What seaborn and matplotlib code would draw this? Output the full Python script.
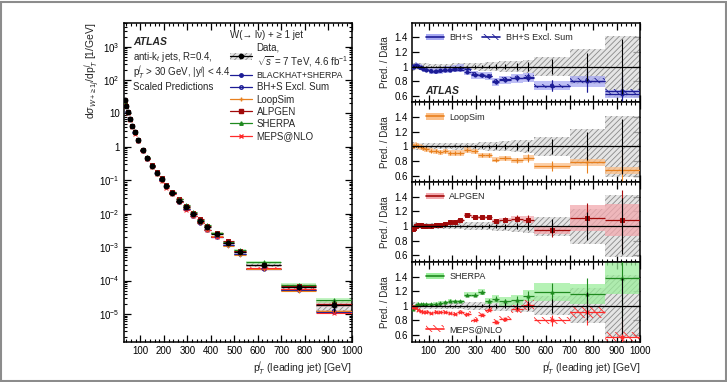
import numpy as np
import pandas as pd
import matplotlib
matplotlib.use("Agg")
import matplotlib.pyplot as plt
import seaborn as sns
from matplotlib.patches import Patch, Rectangle
from matplotlib.lines import Line2D
from matplotlib.ticker import MultipleLocator, FixedLocator, FuncFormatter, LogLocator, NullFormatter

# ---------------- data ----------------
bin_edges = [30, 35, 40, 50, 60, 70, 80, 100, 120, 140, 160, 180, 200, 220, 250,
             280, 310, 340, 370, 400, 450, 500, 550, 700, 850, 1000]
data_xsec = [25, 16.8, 10.8, 6.8, 4.2, 2.7, 1.6, 0.81, 0.47, 0.275, 0.17, 0.107, 0.068,
             0.042, 0.0245, 0.0155, 0.0095, 0.006, 0.0041, 0.0025, 0.00135, 0.00071,
             0.0003, 6.3e-5, 1.85e-5]
data_stat_rel = [0.004, 0.004, 0.004, 0.004, 0.004, 0.005, 0.005, 0.006, 0.007, 0.008, 0.009,
                 0.01, 0.012, 0.013, 0.015, 0.018, 0.02, 0.025, 0.03, 0.035, 0.045, 0.06,
                 0.1, 0.19, 0.38]
data_syst_rel = [0.06, 0.055, 0.05, 0.045, 0.045, 0.045, 0.045, 0.04, 0.04, 0.04, 0.04, 0.04,
                 0.045, 0.045, 0.05, 0.05, 0.055, 0.06, 0.065, 0.07, 0.08, 0.09, 0.13, 0.24, 0.42]

bhs_ratio = [0.99, 1.0, 1.02, 1.01, 0.99, 0.97, 0.96, 0.94, 0.94, 0.95, 0.96, 0.96, 0.97,
             0.98, 0.93, 0.89, 0.88, 0.87, 0.79, 0.82, 0.84, 0.85, 0.74, 0.80, 0.62]
bhs_unc = [0.04, 0.04, 0.04, 0.04, 0.04, 0.04, 0.04, 0.045, 0.045, 0.05, 0.05, 0.05, 0.05,
           0.05, 0.055, 0.06, 0.06, 0.06, 0.065, 0.07, 0.07, 0.075, 0.085, 0.09, 0.09]
bhsx_ratio = [1.0, 1.0, 1.01, 1.0, 0.98, 0.97, 0.95, 0.94, 0.93, 0.94, 0.95, 0.95, 0.96,
              0.96, 0.97, 0.90, 0.88, 0.87, 0.80, 0.83, 0.85, 0.86, 0.74, 0.81, 0.66]
bhsx_unc = [0.02, 0.02, 0.02, 0.02, 0.02, 0.02, 0.02, 0.02, 0.02, 0.02, 0.02, 0.02, 0.02,
            0.02, 0.025, 0.025, 0.025, 0.03, 0.03, 0.03, 0.03, 0.03, 0.035, 0.04, 0.05]
loop_ratio = [1.0, 1.01, 1.02, 1.0, 0.99, 0.98, 0.96, 0.94, 0.93, 0.92, 0.93, 0.91, 0.91,
              0.91, 0.95, 0.93, 0.88, 0.88, 0.82, 0.84, 0.81, 0.84, 0.73, 0.78, 0.67]
loop_unc = [0.04, 0.04, 0.04, 0.04, 0.04, 0.04, 0.04, 0.04, 0.04, 0.04, 0.04, 0.04, 0.04,
            0.04, 0.04, 0.04, 0.04, 0.04, 0.04, 0.04, 0.045, 0.05, 0.06, 0.06, 0.07]
alp_ratio = [0.96, 0.98, 1.0, 1.02, 1.01, 1.0, 1.0, 1.0, 1.01, 1.02, 1.03, 1.06, 1.05,
             1.08, 1.15, 1.13, 1.12, 1.12, 1.07, 1.09, 1.10, 1.09, 0.95, 1.11, 1.08]
alp_unc = [0.02, 0.02, 0.02, 0.02, 0.02, 0.02, 0.02, 0.02, 0.02, 0.02, 0.02, 0.02, 0.02,
           0.02, 0.02, 0.02, 0.02, 0.02, 0.02, 0.02, 0.03, 0.04, 0.06, 0.16, 0.2]
sherpa_ratio = [0.96, 0.99, 1.01, 1.03, 1.02, 1.02, 1.02, 1.02, 1.03, 1.04, 1.05, 1.07, 1.06,
                1.06, 1.15, 1.15, 1.19, 1.07, 1.10, 1.06, 1.08, 1.14, 1.19, 1.16, 1.38]
sherpa_unc = [0.02, 0.02, 0.02, 0.02, 0.02, 0.02, 0.02, 0.02, 0.02, 0.02, 0.02, 0.02, 0.02,
              0.02, 0.03, 0.03, 0.03, 0.04, 0.05, 0.06, 0.06, 0.07, 0.1, 0.12, 0.16]
meps_ratio = [0.99, 0.98, 0.97, 0.95, 0.93, 0.92, 0.91, 0.90, 0.91, 0.92, 0.91, 0.90, 0.89,
              0.91, 0.89, 0.81, 0.88, 0.95, 0.78, 0.82, 0.96, 1.01, 0.80, 0.91, 0.58]
meps_unc = [0.03, 0.03, 0.03, 0.03, 0.03, 0.03, 0.03, 0.03, 0.03, 0.03, 0.03, 0.03, 0.03,
            0.035, 0.04, 0.04, 0.04, 0.05, 0.05, 0.05, 0.06, 0.07, 0.06, 0.08, 0.1]

# ---------------- style ----------------
sns.set_theme(style="ticks")
plt.rcParams["font.family"] = ["Liberation Sans", "DejaVu Sans"]
plt.rcParams["mathtext.fontset"] = "custom"
plt.rcParams["mathtext.rm"] = "Liberation Sans"
plt.rcParams["mathtext.it"] = "Liberation Sans:italic"
plt.rcParams["mathtext.bf"] = "Liberation Sans:bold"
plt.rcParams["hatch.linewidth"] = 0.6
plt.rcParams["axes.linewidth"] = 1.1

lo = np.array(bin_edges[:-1], float)
hi = np.array(bin_edges[1:], float)
cen = 0.5 * (lo + hi)
wid = hi - lo
xs = np.array(data_xsec)
stat = np.array(data_stat_rel)
syst = np.array(data_syst_rel)

C_BH, B_BH = "#1c1c96", "#a8aaf2"
C_LS, B_LS = "#e8801e", "#fbc08a"
C_AL, B_AL = "#a10a0a", "#f2a8ae"
C_SH, B_SH = "#1f8a1f", "#9cee9c"
C_ME = "#ff2a2a"
C_GR = "#8a8a8a"
F_GR = (0.86, 0.86, 0.86, 0.7)

preds = [
    dict(name="BH+S", r=bhs_ratio, u=bhs_unc, c=C_BH, band=B_BH, m="o", fill=True, hatch=None),
    dict(name="BH+S Excl. Sum", r=bhsx_ratio, u=bhsx_unc, c=C_BH, band=None, m="o", fill=False, hatch="\\\\\\\\"),
    dict(name="LoopSim", r=loop_ratio, u=loop_unc, c=C_LS, band=B_LS, m="+", fill=True, hatch=None),
    dict(name="ALPGEN", r=alp_ratio, u=alp_unc, c=C_AL, band=B_AL, m="s", fill=True, hatch=None),
    dict(name="SHERPA", r=sherpa_ratio, u=sherpa_unc, c=C_SH, band=B_SH, m="^", fill=True, hatch=None),
    dict(name="MEPS@NLO", r=meps_ratio, u=meps_unc, c=C_ME, band=None, m="x", fill=True, hatch="\\\\\\\\"),
]

W, H = 727, 382
fig = plt.figure(figsize=(W / 100, H / 100), dpi=100)
fig.patch.set_facecolor("white")


def fx(p):
    return p / W


def fy(p):
    return 1 - p / H


def style_ax(ax):
    ax.tick_params(which="both", direction="in", top=True, right=True, labelsize=7,
                   colors="black", pad=3)
    ax.tick_params(which="major", length=5, width=0.9)
    ax.tick_params(which="minor", length=2.5, width=0.8)
    for s in ax.spines.values():
        s.set_color("black")
        s.set_linewidth(1.1)
    ax.set_facecolor("white")
    ax.grid(False)


def draw_scatter(ax, x, y, p, size):
    df = pd.DataFrame({"x": x, "y": y})
    if p["m"] in ("+", "x"):
        sns.scatterplot(data=df, x="x", y="y", marker=p["m"], color=p["c"], s=size * 1.3,
                        linewidth=0.8, ax=ax, legend=False, zorder=5)
    else:
        sns.scatterplot(data=df, x="x", y="y", marker=p["m"],
                        color=p["c"] if p["fill"] else "none",
                        edgecolor=p["c"], s=size, linewidth=0.7, ax=ax, legend=False, zorder=5)
    ax.set_xlabel("")
    ax.set_ylabel("")


# ---------------- left main panel ----------------
axL = fig.add_axes([fx(124), fy(341.7), fx(351.7) - fx(124), fy(22.7) - fy(341.7)])
style_ax(axL)
axL.set_yscale("log")

# data systematic box (underneath)
axL.bar(lo, 2 * syst * xs, width=wid, bottom=xs * (1 - syst), align="edge",
        facecolor=F_GR, edgecolor=C_GR, hatch="//////", linewidth=0, zorder=1)

for p in preds:
    r = np.array(p["r"])
    u = np.array(p["u"])
    pv = xs * r
    if p["hatch"]:
        axL.bar(lo, 2 * u * pv, width=wid, bottom=pv * (1 - u), align="edge",
                facecolor="none", edgecolor=p["c"], hatch=p["hatch"], linewidth=0, zorder=2)
    else:
        axL.bar(lo, 2 * u * pv, width=wid, bottom=pv * (1 - u), align="edge",
                color=p["band"], linewidth=0, alpha=0.6, zorder=2)
    axL.hlines(pv, lo, hi, color=p["c"], lw=0.8, zorder=3)
    draw_scatter(axL, cen, pv, p, 6)

# data points
axL.hlines(xs, lo, hi, color="black", lw=0.9, zorder=6)
axL.errorbar(cen, xs, yerr=stat * xs, fmt="none", ecolor="black", elinewidth=0.9, zorder=6)
sns.scatterplot(x=cen, y=xs, marker="o", color="black", s=18, linewidth=0, ax=axL,
                legend=False, zorder=7)

axL.set_xlim(30, 1000)
axL.set_ylim(1.48e-6, 5.2e3)
axL.xaxis.set_major_locator(FixedLocator(np.arange(100, 1001, 100)))
axL.xaxis.set_minor_locator(FixedLocator(np.arange(40, 1001, 20)))
axL.xaxis.set_major_formatter(FuncFormatter(lambda v, pos: "%d" % v))
axL.yaxis.set_major_locator(FixedLocator([1e-5, 1e-4, 1e-3, 1e-2, 1e-1, 1, 10, 1e2, 1e3]))
axL.yaxis.set_minor_locator(LogLocator(base=10, subs=np.arange(2, 10), numticks=20))
axL.yaxis.set_minor_formatter(NullFormatter())


def logfmt(v, pos):
    e = int(round(np.log10(v)))
    if e == 0:
        return "1"
    if e == 1:
        return "10"
    return r"10$^{%d}$" % e


axL.yaxis.set_major_formatter(FuncFormatter(logfmt))
axL.set_xlabel("")
axL.set_ylabel("")
fig.text(fx(92), fy(22.7), r"d$\sigma_{W+\geq1j}$/dp$_{T}^{j}$ [1/GeV]", rotation=90,
         ha="center", va="top", fontsize=7.5)
fig.text(fx(351.7), fy(368), r"p$_{T}^{j}$ (leading jet) [GeV]", ha="right", va="center",
         fontsize=7.5)

fig.text(fx(133), fy(41.7), "ATLAS", fontsize=7.5, fontweight="bold", fontstyle="italic",
         va="center")
fig.text(fx(133), fy(56.7), r"anti-k$_{t}$ jets, R=0.4,", fontsize=7, va="center")
fig.text(fx(133), fy(71.7), r"p$_{T}^{j}$ > 30 GeV, |y$^{j}$| < 4.4", fontsize=7, va="center")
fig.text(fx(133), fy(86.7), "Scaled Predictions", fontsize=7, va="center")

# left legend
h_data = (Patch(facecolor=F_GR, edgecolor=C_GR, hatch="//////", linewidth=0),
          Line2D([], [], color="black", marker="o", ms=3, lw=0.9))
handles = [h_data]
labels = ["Data,\n$\\sqrt{s}$ = 7 TeV, 4.6 fb$^{-1}$"]
leg_names = ["BLACKHAT+SHERPA", "BH+S Excl. Sum", "LoopSim", "ALPGEN", "SHERPA", "MEPS@NLO"]
for p, nm in zip(preds, leg_names):
    mk = p["m"]
    handles.append(Line2D([], [], color=p["c"], marker=mk, ms=2.5 if mk != "x" else 3,
                          mfc=p["c"] if p["fill"] else "none", mec=p["c"], lw=0.9))
    labels.append(nm)
legL = axL.legend(handles, labels, loc="upper left", bbox_to_anchor=(fx(230), fy(30)),
                  bbox_transform=fig.transFigure, frameon=False, fontsize=7,
                  title="W(\u2192 l\u03bd) + \u2265 1 jet", title_fontsize=7,
                  alignment="left", handlelength=2.3, handletextpad=0.45,
                  labelspacing=0.22, borderpad=0, borderaxespad=0)
legL.get_texts()[1].set_fontsize(6.3)

# ---------------- right ratio panels ----------------
bounds = [22.7, 102.45, 182.2, 261.95, 341.7]
panel_sets = [[0, 1], [2], [3], [4, 5]]
axR = []
for i in range(4):
    ax = fig.add_axes([fx(412.3), fy(bounds[i + 1]), fx(640) - fx(412.3),
                       fy(bounds[i]) - fy(bounds[i + 1])])
    style_ax(ax)
    axR.append(ax)
    # data syst band
    ax.bar(lo, 2 * syst, width=wid, bottom=1 - syst, align="edge", facecolor=F_GR,
           edgecolor=C_GR, hatch="//////", linewidth=0, zorder=1)
    for k in panel_sets[i]:
        p = preds[k]
        r = np.array(p["r"])
        u = np.array(p["u"])
        if p["hatch"]:
            ax.bar(lo, 2 * u * r, width=wid, bottom=r * (1 - u), align="edge",
                   facecolor="none", edgecolor=p["c"], hatch=p["hatch"], linewidth=0, zorder=2)
        else:
            ax.bar(lo, 2 * u * r, width=wid, bottom=r * (1 - u), align="edge",
                   color=p["band"], alpha=0.75, linewidth=0, zorder=2)
        ax.hlines(r, lo, hi, color=p["c"], lw=0.9, zorder=4)
        ax.errorbar(cen, r, yerr=r * stat, fmt="none", ecolor=p["c"], elinewidth=0.8, zorder=4)
        draw_scatter(ax, cen, r, p, 5)
    ax.axhline(1, color="black", lw=0.9, zorder=5)
    ax.errorbar(cen, np.ones_like(cen), yerr=stat, fmt="none", ecolor="black",
                elinewidth=0.8, zorder=5)
    ax.set_xlim(30, 1000)
    ax.set_ylim(0.51, 1.60)
    ax.xaxis.set_major_locator(FixedLocator(np.arange(100, 1001, 100)))
    ax.xaxis.set_minor_locator(FixedLocator(np.arange(40, 1001, 20)))
    ax.yaxis.set_major_locator(FixedLocator([0.6, 0.8, 1.0, 1.2, 1.4]))
    ax.yaxis.set_major_formatter(FuncFormatter(lambda v, pos: "1" if abs(v - 1) < 1e-6 else "%.1f" % v))
    ax.set_xlabel("")
    ax.set_ylabel("Pred. / Data", fontsize=7, labelpad=3)
    if i < 3:
        ax.xaxis.set_major_formatter(NullFormatter())
    else:
        ax.xaxis.set_major_formatter(FuncFormatter(lambda v, pos: "%d" % v))


def band_handle(p):
    if p["hatch"]:
        patch = Patch(facecolor="none", edgecolor=p["c"], hatch=p["hatch"], linewidth=0)
    else:
        patch = Patch(facecolor=p["band"], edgecolor="none")
    return (patch, Line2D([], [], color=p["c"], lw=1.2))


def yfrac(v):
    return (v - 0.51) / (1.60 - 0.51)


leg_kw = dict(frameon=False, fontsize=6.5, handlelength=2.0, handletextpad=0.6,
              borderpad=0, borderaxespad=0)
axR[0].legend([band_handle(preds[0]), band_handle(preds[1])], ["BH+S", "BH+S Excl. Sum"],
              loc="center left", bbox_to_anchor=(0.06, yfrac(1.4)), ncol=2,
              columnspacing=1.0, **leg_kw)
axR[0].text(0.055, yfrac(0.67), "ATLAS", transform=axR[0].transAxes, fontsize=7.5,
            fontweight="bold", fontstyle="italic", va="center")
axR[1].legend([band_handle(preds[2])], ["LoopSim"], loc="center left",
              bbox_to_anchor=(0.06, yfrac(1.4)), **leg_kw)
axR[2].legend([band_handle(preds[3])], ["ALPGEN"], loc="center left",
              bbox_to_anchor=(0.06, yfrac(1.4)), **leg_kw)
lg1 = axR[3].legend([band_handle(preds[4])], ["SHERPA"], loc="center left",
                    bbox_to_anchor=(0.06, yfrac(1.4)), **leg_kw)
axR[3].add_artist(lg1)
axR[3].legend([band_handle(preds[5])], ["MEPS@NLO"], loc="center left",
              bbox_to_anchor=(0.06, yfrac(0.68)), **leg_kw)

fig.text(fx(640), fy(368), r"p$_{T}^{j}$ (leading jet) [GeV]", ha="right", va="center",
         fontsize=7.5)

fig.patches.append(Rectangle((0.0015, 0.003), 0.997, 0.993, transform=fig.transFigure,
                             fill=False, edgecolor="#8c8c8c", lw=1.5, zorder=-1))

fig.savefig("out.png", dpi=100)
